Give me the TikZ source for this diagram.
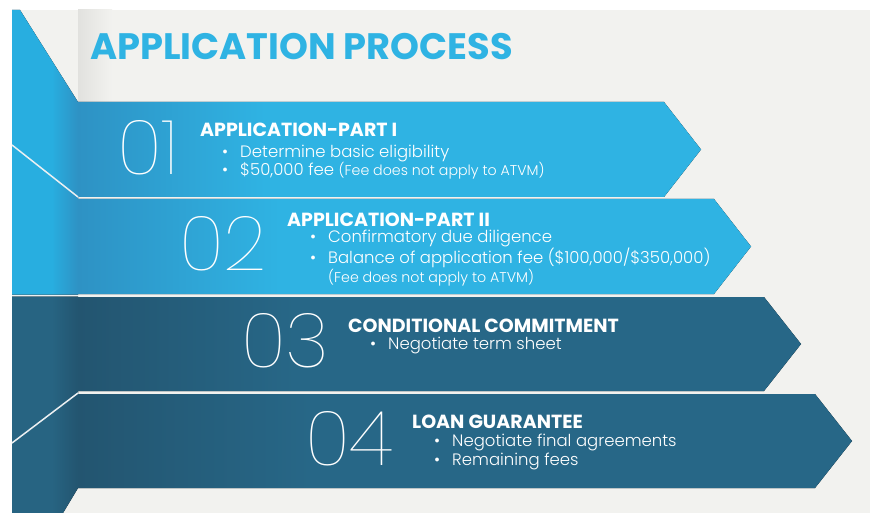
\documentclass[tikz,border=0pt]{standalone}
\usepackage{fontspec}
\setmainfont{Poppins}
\newfontfamily\thinnum{Poppins Thin}
\newfontfamily\lightbody{Poppins Light}
\usetikzlibrary{positioning}

\definecolor{bgGray}{RGB}{242,242,239}
\definecolor{skyBlue}{RGB}{47,179,227}
\definecolor{skyShade}{RGB}{46,146,196}
\definecolor{foldSky}{RGB}{40,174,224}
\definecolor{deepBlue}{RGB}{39,103,135}
\definecolor{deepShade}{RGB}{35,85,112}
\definecolor{foldDeep}{RGB}{39,100,130}
\definecolor{creaseWhite}{RGB}{236,240,242}

% fold shadow on the left end of each arrow
\pgfdeclarehorizontalshading{skyfade}{100bp}{color(0bp)=(skyShade); color(25bp)=(skyShade); color(40bp)=(skyBlue); color(100bp)=(skyBlue)}
\pgfdeclarehorizontalshading{deepfade}{100bp}{color(0bp)=(deepShade); color(25bp)=(deepShade); color(40bp)=(deepBlue); color(100bp)=(deepBlue)}
% the folded-back strip
\pgfdeclarehorizontalshading{skyfold}{100bp}{color(0bp)=(foldSky); color(25bp)=(foldSky); color(55bp)=(foldSky); color(75bp)=(skyShade); color(100bp)=(skyShade)}
\pgfdeclarehorizontalshading{deepfold}{100bp}{color(0bp)=(foldDeep); color(25bp)=(foldDeep); color(55bp)=(foldDeep); color(75bp)=(deepShade); color(100bp)=(deepShade)}

\newcommand{\feenote}[1]{{\fontsize{14.2}{16}\selectfont #1}}

\begin{document}
\begin{tikzpicture}[x=1pt, y=-1pt,
  skyarrow/.style={shading=skyfade},
  deeparrow/.style={shading=deepfade},
  crease/.style={draw=creaseWhite, line width=1.5pt},
  num/.style={font=\thinnum\fontsize{76}{76}\selectfont, text=white,
              inner sep=0pt, anchor=base west},
  head/.style={font=\bfseries\fontsize{19}{20}\selectfont, text=white,
               inner sep=0pt, anchor=base west},
  steplist/.style={font=\lightbody\fontsize{16.5}{18.6}\selectfont, text=white,
                   inner sep=0pt, anchor=base west, align=left}
]
\useasboundingbox (0,0) rectangle (870,513);
\fill[white] (0,0) rectangle (870,513);
\fill[bgGray] (12,10) rectangle (870,513);
\fill[left color=black!7!bgGray, right color=bgGray] (78,10) rectangle (112,102);

% folded strip on the left
\fill[shading=skyfold] (12,10) -- (20,10) -- (78,102) -- (78,294.5) -- (12,294.5) -- cycle;
\fill[shading=deepfold] (12,296.5) -- (78,296.5) -- (78,488) -- (63,513) -- (12,513) -- cycle;

% the four arrows
\fill[skyarrow] (78,102) -- (664,102) -- (701,149.5) -- (664,197) -- (78,197) -- cycle;
\fill[skyarrow] (78,199) -- (714,199) -- (751,246.5) -- (714,294) -- (78,294) -- cycle;
\fill[deeparrow] (78,297) -- (764,297) -- (801,344) -- (764,391) -- (78,391) -- cycle;
\fill[deeparrow] (78,394) -- (815,394) -- (852,441) -- (815,488) -- (78,488) -- cycle;

% creases in the strip
\draw[crease] (12,145) -- (78,197);
\draw[crease] (12,295.5) -- (78,295.5);
\draw[crease] (12,443) -- (78,393);

\node[font=\bfseries\fontsize{36.8}{40}\selectfont, text=skyBlue, inner sep=0pt,
      anchor=base west] (title) at (90,60) {APPLICATION PROCESS};

% step 01 (list nodes sit on the baseline of their last line)
\node[num] (num1) at (117,175) {01};
\node[head] (head1) at (200,137) {APPLICATION-PART I};
\node[steplist] (list1) at (222,176)
  {\textbullet\hspace{12pt}Determine basic eligibility\\
   \textbullet\hspace{12pt}\$50,000 fee \feenote{(Fee does not apply to ATVM)}};

% step 02
\node[num] (num2) at (179,270) {02};
\node[head] (head2) at (287,226) {APPLICATION-PART II};
\node[steplist] (list2) at (310,282)
  {\textbullet\hspace{12pt}Confirmatory due diligence\\
   \textbullet\hspace{12pt}Balance of application fee (\$100,000/\$350,000)\\
   \hphantom{\textbullet}\hspace{12pt}\feenote{(Fee does not apply to ATVM)}};

% step 03
\node[num] (num3) at (241,367) {03};
\node[head] (head3) at (348,332) {CONDITIONAL COMMITMENT};
\node[steplist] (list3) at (370,349)
  {\textbullet\hspace{12pt}Negotiate term sheet};

% step 04
\node[num] (num4) at (305,465) {04};
\node[head] (head4) at (412,428) {LOAN GUARANTEE};
\node[steplist] (list4) at (434,465)
  {\textbullet\hspace{12pt}Negotiate final agreements\\
   \textbullet\hspace{12pt}Remaining fees};
\end{tikzpicture}
\end{document}
